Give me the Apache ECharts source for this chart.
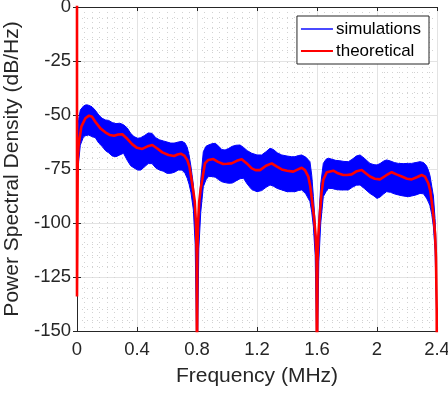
<!DOCTYPE html>
<html>
<head>
<meta charset="utf-8">
<script src="https://cdn.jsdelivr.net/npm/echarts@6/dist/echarts.min.js"></script>
<style>
  html, body { margin: 0; padding: 0; background: #fff; }
  #chart { width: 448px; height: 394px; }
</style>
</head>
<body>
<div id="chart"></div>
<script>
// simulated PSD, read off as an upper / lower envelope of the blue band
const bandFreq = [
  0.003, 0.011, 0.022, 0.044, 0.06, 0.078, 0.1, 0.122, 0.145, 0.167, 0.19, 0.211, 0.235, 0.26, 0.285,
  0.31, 0.335, 0.358, 0.38, 0.405, 0.425, 0.45, 0.475, 0.5, 0.525, 0.55, 0.575, 0.6, 0.625, 0.65,
  0.675, 0.7, 0.72, 0.735, 0.747, 0.76, 0.776, 0.788, 0.796, 0.8,
  0.805, 0.812, 0.825, 0.842, 0.86, 0.876, 0.9, 0.922, 0.945, 0.965, 0.987, 1.01, 1.035, 1.06, 1.087,
  1.11, 1.135, 1.165, 1.2, 1.231, 1.26, 1.287, 1.31, 1.335, 1.365, 1.4, 1.431, 1.453, 1.475, 1.498,
  1.525, 1.553, 1.565, 1.576, 1.588, 1.596, 1.6,
  1.605, 1.612, 1.625, 1.642, 1.66, 1.676, 1.7, 1.725, 1.753, 1.78, 1.809, 1.835, 1.862, 1.887,
  1.915, 1.953, 1.98, 2.0, 2.02, 2.045, 2.064, 2.09, 2.115, 2.142, 2.175, 2.209, 2.231, 2.26, 2.287,
  2.31, 2.33, 2.342, 2.353, 2.365, 2.376, 2.387, 2.395, 2.4
];
const bandUpper = [
  -60, -52, -47.7, -45.8, -45.3, -45.5, -46.2, -47.8, -50, -51.5, -52.3, -52.5, -53.5, -54, -53.8,
  -54.5, -56, -58.5, -60, -60.8, -60.5, -59.5, -58.3, -58.5, -60.5, -61.5, -62, -62.5, -63, -63,
  -62.5, -62.2, -63, -65, -68.5, -74, -82.4, -95, -115, -160,
  -115, -95, -80, -67, -64.5, -63.9, -63.3, -63.1, -64.5, -66, -66.2, -65.5, -64.5, -64, -63.9,
  -65, -66.5, -67.7, -68.5, -68.5, -67, -65.4, -66, -67.5, -68.5, -69, -69.3, -69.3, -68.8, -68.5,
  -69.5, -71.6, -78, -87.8, -100, -118, -160,
  -118, -98, -82, -72.4, -70.5, -70, -70.5, -71, -71.2, -71.5, -71.6, -70.5, -69, -68.5,
  -70, -72.4, -73, -73.1, -72.5, -71.3, -70.8, -71.3, -72, -72.4, -72.5, -72.4, -72.4, -72, -71.6,
  -72, -73.5, -75.5, -78, -83, -87.5, -98, -112, -160
];
const bandLower = [
  -80, -71.6, -64, -60, -59.5, -59.3, -60, -60.5, -63, -64.5, -66.5, -67.5, -69, -69.3, -68.5,
  -67.7, -71, -73.5, -74.5, -75.5, -75.5, -74, -72.5, -72.5, -74.5, -75.5, -76, -77, -77, -76.5,
  -75.5, -75.5, -77, -79.3, -82, -86, -94, -110, -150, -160,
  -150, -112, -95, -83.2, -80, -78.5, -78.5, -78.8, -80, -80.9, -81.3, -81.6, -81.5, -80.5, -79.5,
  -79.3, -82, -84.5, -85.5, -85, -83.5, -82.4, -83, -84, -84.7, -85.5, -85.5, -85.5, -85, -84.7,
  -86.5, -90.1, -95, -101.7, -115, -150, -160,
  -150, -118, -100, -87.8, -85.5, -84, -84, -84.5, -84.7, -84.7, -84.7, -83.5, -82.5, -82.4,
  -84, -86.3, -87.5, -88.6, -88, -86.5, -85.5, -85.8, -86.5, -87, -87.5, -87.8, -87.5, -87, -86.3,
  -86.5, -88.5, -90.1, -92, -96, -101.7, -112.5, -135, -160
];

// theoretical PSD (red), nulls at 0.8, 1.6, 2.4 MHz fall below the axis
const theoFreq = [
  0, 0, 0.005, 0.011, 0.029, 0.056, 0.08, 0.1, 0.122, 0.156, 0.189, 0.22, 0.247, 0.275, 0.302,
  0.335, 0.369, 0.4, 0.435, 0.47, 0.502, 0.535, 0.569, 0.61, 0.647, 0.67, 0.691, 0.715, 0.735,
  0.75, 0.762, 0.775, 0.785, 0.793, 0.798, 0.8,
  0.802, 0.807, 0.815, 0.825, 0.835, 0.853, 0.875, 0.909, 0.94, 0.975, 1.0, 1.031, 1.065, 1.098,
  1.13, 1.165, 1.19, 1.22, 1.26, 1.298, 1.33, 1.365, 1.4, 1.442, 1.47, 1.498, 1.52, 1.542, 1.555,
  1.569, 1.58, 1.591, 1.597, 1.6,
  1.603, 1.609, 1.62, 1.63, 1.642, 1.665, 1.709, 1.74, 1.775, 1.8, 1.831, 1.865, 1.898, 1.925,
  1.953, 1.985, 2.02, 2.06, 2.098, 2.13, 2.165, 2.2, 2.231, 2.265, 2.298, 2.32, 2.342, 2.355,
  2.369, 2.38, 2.387, 2.393, 2.398, 2.4
];
const theoPsd = [
  10, -134, -70, -63.9, -55.4, -51.5, -50.3, -50.8, -53.1, -56.2, -58, -59.3, -59.6, -59, -58.9,
  -61, -63.6, -65.2, -65.7, -64.5, -63.9, -65.5, -67.3, -68.5, -69, -68.3, -67.9, -68.8, -70.8,
  -74, -79.3, -85, -90, -100, -115, -200,
  -115, -100, -90, -84, -80, -72.4, -70.8, -70.4, -71.7, -72.7, -72.6, -72.4, -71.2, -70.5,
  -72.3, -74.7, -75.5, -75.5, -73.5, -72.4, -73.8, -75.2, -75.8, -76.2, -75.3, -74.4, -75.5, -78.5, -83,
  -90.9, -97, -106, -118, -200,
  -118, -106, -95, -86, -80, -76.5, -75.8, -77, -77.8, -77.8, -77.5, -76, -75.5, -77,
  -78.5, -79.5, -79.8, -78, -76.5, -77.5, -78.5, -79.5, -79.8, -78.8, -77.8, -78.5, -81.6, -85,
  -92.4, -99, -105, -115.6, -140, -200
];

const xTicks = [0, 0.4, 0.8, 1.2, 1.6, 2, 2.4];
const yTicks = [0, -25, -50, -75, -100, -125, -150];

const ink = '#262626';
const chart = echarts.init(document.getElementById('chart'));

const sideAxis = {
  axisLine: { show: true, lineStyle: { color: ink, width: 1 } },
  axisTick: { show: true, inside: true, length: 4, lineStyle: { color: ink } },
  axisLabel: { show: false },
  splitLine: { show: false }
};

chart.setOption({
  animation: false,
  grid: { left: 77, right: 11, top: 7, bottom: 63, outerBoundsMode: 'none', containLabel: false },
  legend: {
    orient: 'vertical',
    right: 19,
    top: 16,
    data: ['simulations', 'theoretical'],
    backgroundColor: '#fff',
    borderColor: ink,
    borderWidth: 1,
    borderRadius: 0,
    padding: [4, 8, 4, 3],
    itemWidth: 32,
    itemHeight: 14,
    itemGap: 4,
    itemStyle: { opacity: 0 },
    textStyle: { fontFamily: 'Liberation Sans, Arial', fontSize: 17, color: '#000', padding: [0, 0, 0, -2], lineHeight: 18 }
  },
  xAxis: [
    {
      type: 'value',
      min: 0,
      max: 2.4,
      interval: 0.4,
      name: 'Frequency (MHz)',
      nameLocation: 'middle',
      nameGap: 35,
      nameTextStyle: { fontFamily: 'Liberation Sans, Arial', fontSize: 21, color: ink },
      axisLine: { show: true, onZero: false, lineStyle: { color: ink, width: 1 } },
      axisTick: { inside: true, length: 4, lineStyle: { color: ink } },
      axisLabel: {
        margin: 9,
        fontFamily: 'Liberation Sans, Arial',
        fontSize: 18.5,
        color: ink,
        formatter: (v) => {
          const t = xTicks.find((x) => Math.abs(x - v) < 1e-6);
          return t === undefined ? '' : String(t);
        }
      },
      splitLine: { show: true, lineStyle: { color: '#e3e3e3', width: 1 } },
      minorTick: { show: false, splitNumber: 8 },
      minorSplitLine: { show: true, lineStyle: { color: '#d2d2d2', width: 1, type: [1, 4] } }
    },
    Object.assign({ type: 'value', min: 0, max: 2.4, interval: 0.4, position: 'top' }, sideAxis)
  ],
  yAxis: [
    {
      type: 'value',
      min: -150,
      max: 0,
      interval: 25,
      name: 'Power Spectral Density (dB/Hz)',
      nameLocation: 'middle',
      nameGap: 44,
      nameTextStyle: { fontFamily: 'Liberation Sans, Arial', fontSize: 21, color: ink },
      axisLine: { show: true, onZero: false, lineStyle: { color: ink, width: 1 } },
      axisTick: { inside: true, length: 4, lineStyle: { color: ink } },
      axisLabel: {
        margin: 6,
        fontFamily: 'Liberation Sans, Arial',
        fontSize: 18.5,
        color: ink,
        formatter: (v) => (yTicks.includes(v) ? String(v) : '')
      },
      splitLine: { show: true, lineStyle: { color: '#e3e3e3', width: 1 } },
      minorTick: { show: false, splitNumber: 5 },
      minorSplitLine: { show: true, lineStyle: { color: '#d2d2d2', width: 1, type: [1, 4] } }
    },
    Object.assign({ type: 'value', min: -150, max: 0, interval: 25, position: 'right' }, sideAxis)
  ],
  series: [
    {
      // band of the simulated spectrum
      type: 'custom',
      silent: true,
      clip: true,
      z: 2,
      data: bandFreq.map((f, i) => [f, bandUpper[i], bandLower[i]]),
      renderItem: (params, api) => {
        if (params.dataIndex !== 0) return null;
        const pts = [];
        for (let i = 0; i < bandFreq.length; i++) pts.push(api.coord([bandFreq[i], bandUpper[i]]));
        for (let i = bandFreq.length - 1; i >= 0; i--) pts.push(api.coord([bandFreq[i], bandLower[i]]));
        return {
          type: 'polygon',
          shape: { points: pts },
          style: { fill: '#0000ff', stroke: '#0000ff', lineWidth: 1 }
        };
      }
    },
    {
      name: 'simulations',
      type: 'line',
      symbol: 'none',
      data: [],
      itemStyle: { color: '#4a4aff' },
      lineStyle: { color: '#4a4aff', width: 1.5 }
    },
    {
      name: 'theoretical',
      type: 'line',
      symbol: 'none',
      clip: true,
      z: 3,
      data: theoFreq.map((f, i) => [f, theoPsd[i]]),
      itemStyle: { color: '#ff0000' },
      lineStyle: { color: '#ff0000', width: 2.6 }
    }
  ]
});
</script>
</body>
</html>
